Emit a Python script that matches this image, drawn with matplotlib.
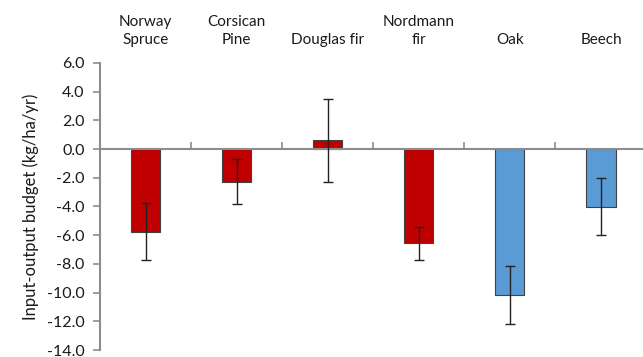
import matplotlib
matplotlib.use("Agg")
import matplotlib.pyplot as plt
import numpy as np

plt.rcParams['font.family'] = ['Lato', 'DejaVu Sans']

# data
species = ["Norway\nSpruce", "Corsican\nPine", "Douglas fir", "Nordmann\nfir", "Oak", "Beech"]
budget = [-5.75, -2.27, 0.6, -6.57, -10.17, -4.02]
errors = [2.0, 1.57, 2.87, 1.17, 2.05, 2.0]
colors = ["#C00000", "#C00000", "#C00000", "#C00000", "#5B9BD5", "#5B9BD5"]
yticks = [6, 4, 2, 0, -2, -4, -6, -8, -10, -12, -14]

fig = plt.figure(figsize=(6.43, 3.57), dpi=100)
ax = fig.add_axes([0.1555, 0.0196, 0.85, 0.804])

x = np.arange(len(species))
ax.bar(x, budget, width=0.32, color=colors, edgecolor="#404040", linewidth=0.8, zorder=2)
ax.errorbar(x, budget, yerr=errors, fmt="none", ecolor="#222222", elinewidth=1,
            capsize=3.5, capthick=1, zorder=3)

ax.set_xlim(-0.5, 5.5)
ax.set_ylim(-14, 6)
ax.set_yticks(yticks)
ax.set_yticklabels([f"{v:.1f}" for v in yticks])

ax.spines['top'].set_visible(False)
ax.spines['right'].set_visible(False)
ax.spines['bottom'].set_position(('data', 0))
for s in ('left', 'bottom'):
    ax.spines[s].set_color('#8c8c8c')
    ax.spines[s].set_linewidth(1.5)

ax.set_xticks(x)
ax.set_xticklabels(species, linespacing=1.4)
ax.set_xticks(np.arange(0.5, 5.5, 1), minor=True)
ax.tick_params(axis='x', which='major', bottom=False, top=False,
               labelbottom=False, labeltop=True, labelsize=11, pad=8, colors='#1a1a1a')
ax.tick_params(axis='x', which='minor', bottom=True, top=False, direction='in',
               length=5, width=1.2, color='#8c8c8c')
ax.tick_params(axis='y', which='major', direction='out', length=5, width=1.2,
               color='#8c8c8c', labelsize=11.5, labelcolor='#1a1a1a', pad=6)

ax.set_ylabel("Input-output budget (kg/ha/yr)", fontsize=12, color='#1a1a1a', labelpad=6)

fig.savefig("out.png", dpi=100)
